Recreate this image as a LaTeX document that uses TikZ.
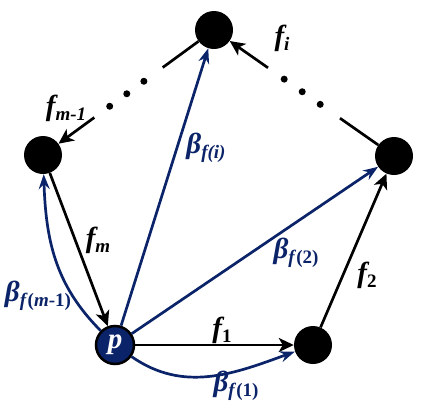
\documentclass[tikz,border=0pt]{standalone}
\usepackage{fontspec}
\setmainfont{Liberation Serif}
\newfontfamily\labfont{Liberation Serif}[BoldItalicFont={* Bold Italic}]
\usetikzlibrary{arrows.meta,calc}

\definecolor{darkblu}{RGB}{10,35,105}
\newcommand{\lbl}[2]{#1\raisebox{-0.4ex}{\fontsize{19}{19}\selectfont #2}}

\begin{document}
\begin{tikzpicture}[
            x=1pt, y=1pt,
            vtx/.style={circle, fill=black, minimum size=38pt, inner sep=0pt},
            blk/.style={line width=2.7pt, -{Stealth[length=15pt, width=14pt, inset=4pt]}},
            blu/.style={darkblu, line width=2.7pt, -{Stealth[length=15pt, width=11pt, inset=5pt]}},
            lab/.style={font=\labfont\fontsize{29}{31}\selectfont\bfseries\itshape, inner sep=0pt}
        ]
            \useasboundingbox (0,0) rectangle (423,-402);

            % vertices
            \node[vtx, fill=darkblu, draw=black, line width=2.5pt, text=white,
                  font=\labfont\fontsize{29}{31}\selectfont\bfseries\itshape] (p) at (115,-345) {p};
            \node[vtx] (v1) at (313,-345) {};
            \node[vtx] (v2) at (394,-156) {};
            \node[vtx] (vi) at (214,-30) {};
            \node[vtx] (vm) at (43,-155) {};

            % black edges
            \draw[blk] (p) -- (v1);
            \draw[blk] (v1) -- (v2);
            \draw[blk] (vm) -- (p);

            \coordinate (a1) at ($(v2)!0.3!(vi)$);
            \coordinate (a2) at ($(v2)!0.7!(vi)$);
            \draw[line width=2.7pt] (v2) -- (a1);
            \draw[blk] (a2) -- (vi);
            \foreach \t in {0.41,0.51,0.61}
                \fill ($(v2)!\t!(vi)$) circle (3.5);

            \coordinate (b1) at ($(vi)!0.3!(vm)$);
            \coordinate (b2) at ($(vi)!0.7!(vm)$);
            \draw[line width=2.7pt] (vi) -- (b1);
            \draw[blk] (b2) -- (vm);
            \foreach \t in {0.41,0.51,0.61}
                \fill ($(vi)!\t!(vm)$) circle (3.5);

            % blue edges
            \draw[blu] (p) -- (vi);
            \draw[blu] (p) -- (v2);
            \draw[blu] (p) to[out=-35, in=200] (v1);
            \draw[blu] (p) to[out=135, in=-88] (vm);

            % labels
            \node[lab] (l1) at (222,-330) {\lbl{f}{\textup{1}}};
            \node[lab] (l2) at (367,-275) {\lbl{f}{\textup{2}}};
            \node[lab] (li) at (282,-38) {\lbl{f}{i}};
            \node[lab] (lm1) at (66,-108) {\lbl{f}{m-1}};
            \node[lab] (lm) at (98,-240) {\lbl{f}{m}};
            \node[lab, darkblu] (bi) at (206,-148) {\lbl{β}{f(i)}};
            \node[lab, darkblu] (b2) at (296,-253) {\lbl{β}{f\textup{(2)}}};
            \node[lab, darkblu] (b1) at (236,-386) {\lbl{β}{f\textup{(1)}}};
            \node[lab, darkblu] (bm1) at (38,-296) {\lbl{β}{f\textup{(}m\textup{-1)}}};
        \end{tikzpicture}
\end{document}
